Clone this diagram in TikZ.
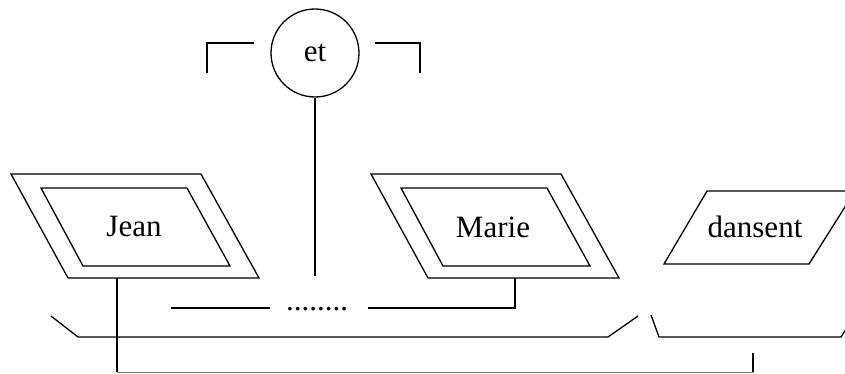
\documentclass[tikz,border=0pt]{standalone}
\usepackage{fontspec}
\setmainfont{Liberation Serif}
\begin{document}
\begin{tikzpicture}[x=1pt,y=-1pt,
  ln/.style={line width=1.3pt,line join=miter},
  thinln/.style={line width=0.9pt,black!55},
  lbl/.style={inner sep=0pt,font=\fontsize{31}{36}\selectfont},
  roundnode/.style={circle,draw,line width=1.3pt,minimum size=88pt,inner sep=0pt,font=\fontsize{31}{36}\selectfont}]
\useasboundingbox (0,0) rectangle (845,374);
% Jean
\draw[ln] (11,174) -- (201,174) -- (259,278) -- (68,278) -- cycle;
\draw[ln] (41,188) -- (187,188) -- (230,266) -- (83,266) -- cycle;
\node[lbl] (jean) at (134,227) {Jean};
\coordinate (jeanb) at (117,278);
% Marie
\draw[ln] (371,174) -- (561,174) -- (619,278) -- (428,278) -- cycle;
\draw[ln] (401,188) -- (547,188) -- (590,266) -- (443,266) -- cycle;
\node[lbl] (marie) at (493,227) {Marie};
\coordinate (marieb) at (515,278);
% dansent
\draw[ln] (707,191) -- (855,191) -- (809,264) -- (664,264) -- cycle;
\node[lbl] (dansent) at (755,227) {dansent};
% et
\node[roundnode] (et) at (315,53) {et};
\coordinate (etend) at (315,276);
\draw[ln] (et.south) -- (etend);
\draw[ln] (207,73) -- (207,43) -- (254,43);
\draw[ln] (375,43) -- (420,43) -- (420,73);
% coordination line
\coordinate (cl1) at (171,308);
\coordinate (cl2) at (270,308);
\coordinate (cr1) at (368,308);
\draw[ln] (cl1) -- (cl2);
\node[lbl,anchor=base] (dots) at (317,310) {........};
\draw[ln] (marieb) -- (515,308) -- (cr1);
% brackets
\draw[ln] (51,316) -- (78,337) -- (608,337) -- (638,316);
\draw[ln] (651,315) -- (659,337) -- (841,337) -- (855,315);
% subject-verb link
\coordinate (vb) at (753,353);
\coordinate (jl) at (117,372);
\coordinate (vl) at (753,372);
\draw[ln] (jeanb) -- (jl);
\draw[thinln] (jl) -- (vl);
\draw[ln] (vl) -- (vb);
\end{tikzpicture}
\end{document}
